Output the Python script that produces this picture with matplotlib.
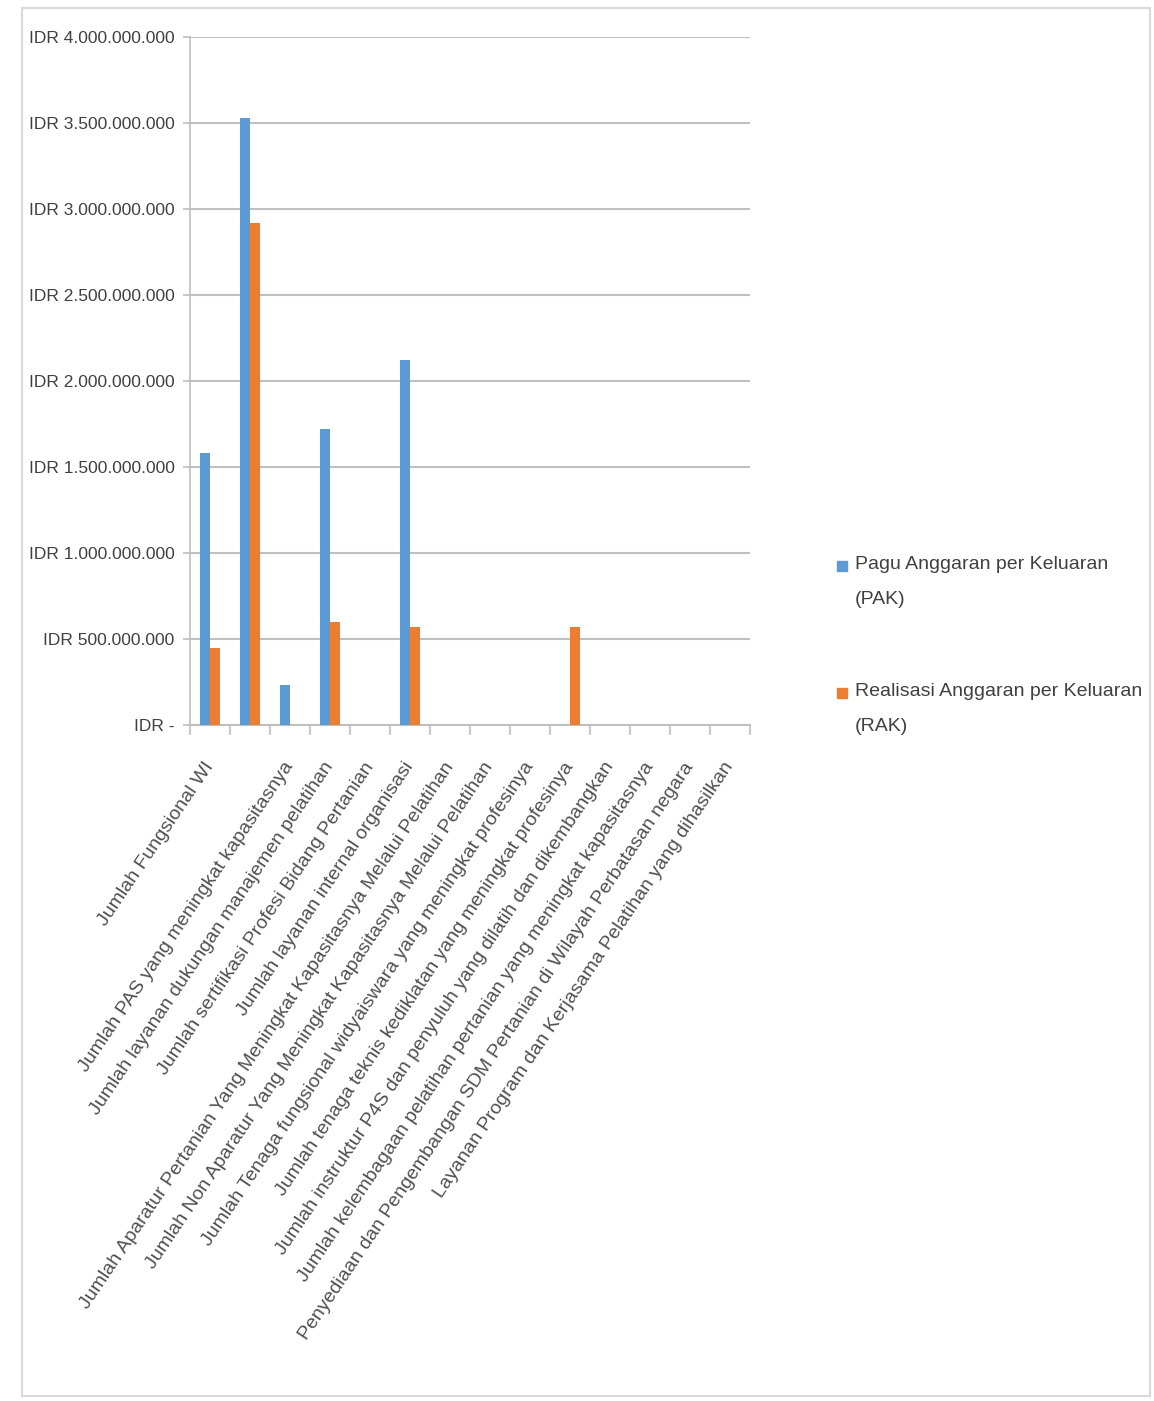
import matplotlib
matplotlib.use("Agg")
import matplotlib.pyplot as plt
import numpy as np
from matplotlib.patches import Rectangle
from matplotlib.ticker import FuncFormatter

plt.rcParams['font.family'] = ['Liberation Sans', 'DejaVu Sans']

kategori = [
    "Jumlah Fungsional WI",
    "",
    "Jumlah PAS yang meningkat kapasitasnya",
    "Jumlah layanan dukungan manajemen pelatihan",
    "Jumlah sertifikasi Profesi Bidang Pertanian",
    "Jumlah layanan internal organisasi",
    "Jumlah Aparatur Pertanian Yang Meningkat Kapasitasnya Melalui Pelatihan",
    "Jumlah Non Aparatur Yang Meningkat Kapasitasnya Melalui Pelatihan",
    "Jumlah Tenaga fungsional widyaiswara yang meningkat profesinya",
    "Jumlah tenaga teknis kediklatan yang meningkat profesinya",
    "Jumlah instruktur P4S dan penyuluh yang dilatih dan dikembangkan",
    "Jumlah kelembagaan pelatihan pertanian yang meningkat kapasitasnya",
    "Penyediaan dan Pengembangan SDM Pertanian di Wilayah Perbatasan negara",
    "Layanan Program dan Kerjasama Pelatihan yang dihasilkan",
]
# pagu & realisasi (rupiah)
pak = [1.58e9, 3.53e9, 0.23e9, 1.72e9, 0, 2.12e9, 0, 0, 0, 0, 0, 0, 0, 0]
rak = [0.45e9, 2.92e9, 0, 0.60e9, 0, 0.57e9, 0, 0, 0, 0.57e9, 0, 0, 0, 0]
seri = ["Pagu Anggaran per Keluaran\n(PAK)", "Realisasi Anggaran per Keluaran\n(RAK)"]

biru = '#5B9BD5'
oranye = '#ED7D31'
abu = '#BFBFBF'
teks = '#404040'

W, H = 1154, 1401
fig = plt.figure(figsize=(W / 100, H / 100), dpi=100)
ax = fig.add_axes([190/W, 1 - 725/H, 560/W, 688/H])

x = np.arange(len(kategori))
w = 0.25
ax.bar(x - w/2, pak, w, color=biru, zorder=3)
ax.bar(x + w/2, rak, w, color=oranye, zorder=3)

ax.set_xlim(-0.5, len(kategori) - 0.5)
ax.set_ylim(0, 4e9)
ax.set_yticks(np.arange(0, 4.01e9, 0.5e9))

def rupiah(v, pos):
    if v == 0:
        return "IDR -"
    return "IDR " + f"{int(v):,}".replace(",", ".")

ax.yaxis.set_major_formatter(FuncFormatter(rupiah))
ax.tick_params(axis='y', labelsize=12.5, colors=abu, labelcolor=teks,
               length=5, width=1.2, pad=6)

ax.set_xticks(x)
ax.set_xticklabels(kategori, rotation=56, ha='right', va='center',
                   rotation_mode='anchor', fontsize=14, color='#505050')
ax.set_xticks(np.arange(-0.5, len(kategori)), minor=True)
ax.tick_params(axis='x', which='major', length=0, pad=28)
ax.tick_params(axis='x', which='minor', length=7, color=abu, width=1.2)

ax.grid(axis='y', color=abu, linewidth=1.5, zorder=0)
for s in ['top', 'right']:
    ax.spines[s].set_visible(False)
ax.spines['left'].set_color(abu)
ax.spines['bottom'].set_color(abu)
ax.spines['left'].set_linewidth(1.2)
ax.spines['bottom'].set_linewidth(1.5)

# legenda di kanan
for warna, nama, ytop in zip([biru, oranye], seri, [566, 693]):
    fig.add_artist(Rectangle((837/W, 1 - (ytop + 5)/H), 10/W, 10/H,
                             transform=fig.transFigure, color=warna))
    fig.text(855/W, 1 - (ytop - 10)/H, nama, fontsize=14, color=teks,
             va='top', ha='left', linespacing=2.4)

fig.add_artist(Rectangle((22/W, 5/H), 1128/W, 1388/H,
                         transform=fig.transFigure, fill=False,
                         edgecolor='#D9D9D9', linewidth=1.5))

fig.savefig('out.png', dpi=100)
